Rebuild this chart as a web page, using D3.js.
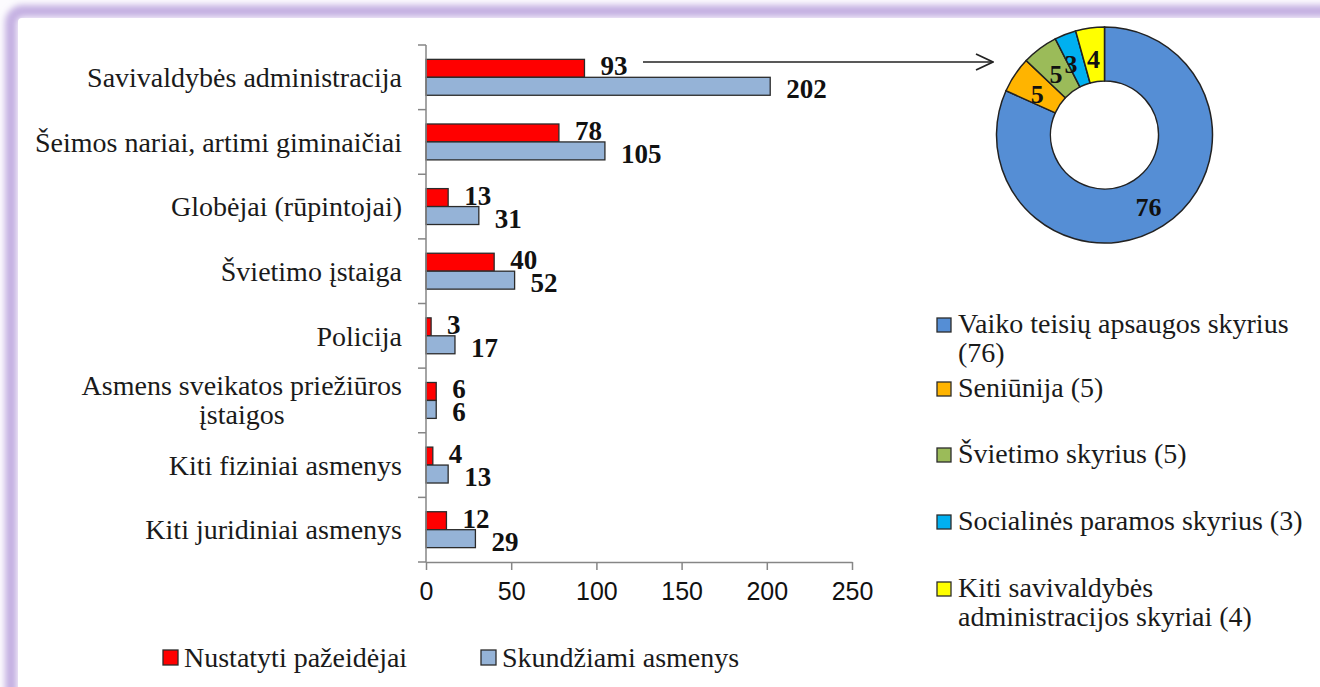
<!DOCTYPE html>
<html>
<head>
<meta charset="utf-8">
<script src="https://cdn.jsdelivr.net/npm/d3@7"></script>
<style>
  html, body { margin: 0; padding: 0; background: #fcfbfe; }
  svg { display: block; }
</style>
</head>
<body>
<svg id="chart"></svg>
<script>
const categories = [
    "Savivaldybės administracija",
    "Šeimos nariai, artimi giminaičiai",
    "Globėjai (rūpintojai)",
    "Švietimo įstaiga",
    "Policija",
    "Asmens sveikatos priežiūros|įstaigos",
    "Kiti fiziniai asmenys",
    "Kiti juridiniai asmenys"
];
const nustatyti = [93, 78, 13, 40, 3, 6, 4, 12];
const skundziami = [202, 105, 31, 52, 17, 6, 13, 29];
const seriesNames = ["Nustatyti pažeidėjai", "Skundžiami asmenys"];
const xTicks = [0, 50, 100, 150, 200, 250];

const donutNames = [
    "Vaiko teisių apsaugos skyrius|(76)",
    "Seniūnija (5)",
    "Švietimo skyrius (5)",
    "Socialinės paramos skyrius (3)",
    "Kiti savivaldybės|administracijos skyriai (4)"
];
const donutValues = [76, 5, 5, 3, 4];

const W = 1320, H = 687;
const serif = "'Liberation Serif', 'Times New Roman', serif";
const seriesColors = ["#ff0000", "#95b3d7"];
const donutColors = ["#558ed5", "#ffb400", "#9bbb59", "#00b0f0", "#ffff00"];

const svg = d3.select("#chart").attr("width", W).attr("height", H);

// purple frame
const defs = svg.append("defs");
defs.append("filter").attr("id", "soft")
    .attr("x", "-5%").attr("y", "-5%").attr("width", "110%").attr("height", "110%")
    .append("feGaussianBlur").attr("stdDeviation", 3);
svg.append("rect")
    .attr("x", 11).attr("y", 11).attr("width", W + 20).attr("height", H + 20)
    .attr("rx", 12)
    .attr("fill", "none").attr("stroke", "#c4b0e2").attr("stroke-width", 12)
    .attr("filter", "url(#soft)");
svg.append("rect")
    .attr("x", 18).attr("y", 18).attr("width", W).attr("height", H)
    .attr("rx", 4)
    .attr("fill", "#ffffff");

// ---- bar chart ----
const x = d3.scaleLinear().domain([0, 250]).range([426, 852]);
const y = d3.scaleBand().domain(categories).range([45, 562]);
const ySub = d3.scaleBand().domain([0, 1]).range([0, y.bandwidth()]).paddingOuter(0.8);

const data = categories.map((c, i) => ({ cat: c, vals: [nustatyti[i], skundziami[i]] }));

const groups = svg.append("g").selectAll("g")
    .data(data).join("g")
    .attr("transform", d => `translate(0,${y(d.cat)})`);

groups.selectAll("rect")
    .data(d => d.vals.map((v, k) => ({ v, k })))
    .join("rect")
    .attr("x", x(0))
    .attr("y", d => ySub(d.k))
    .attr("width", d => x(d.v) - x(0))
    .attr("height", ySub.bandwidth())
    .attr("fill", d => seriesColors[d.k])
    .attr("stroke", "#2b2b2b")
    .attr("stroke-width", 1.3);

groups.selectAll("text.val")
    .data(d => d.vals.map((v, k) => ({ v, k })))
    .join("text")
    .attr("class", "val")
    .attr("x", d => x(d.v) + 16)
    .attr("y", d => ySub(d.k) + ySub.bandwidth() + (d.k === 0 ? -2 : 3))
    .style("font-family", serif)
    .style("font-weight", "bold")
    .style("font-size", "27px")
    .attr("fill", "#111")
    .text(d => d.v);

// category labels
const catText = svg.append("g").selectAll("text")
    .data(categories).join("text")
    .attr("y", d => y(d) + y.bandwidth() / 2)
    .style("font-family", serif)
    .style("font-size", "28px")
    .attr("fill", "#1a1a1a");
catText.each(function(d) {
    const lines = d.split("|");
    const t = d3.select(this);
    if (lines.length === 1) {
        t.attr("x", 402).attr("text-anchor", "end").attr("dy", "0.35em").text(lines[0]);
        return;
    }
    const spans = lines.map((ln, i) => t.append("tspan")
        .attr("dy", i === 0 ? "-0.2em" : "1.05em")
        .text(ln));
    const w = spans[0].node().getComputedTextLength();
    t.attr("text-anchor", "middle");
    spans.forEach(s => s.attr("x", 402 - w / 2));
});

// y axis line and band ticks
const bounds = categories.map(c => y(c)).concat([y.range()[1]]);
svg.append("line")
    .attr("x1", x(0)).attr("x2", x(0))
    .attr("y1", 45).attr("y2", 562)
    .attr("stroke", "#868686").attr("stroke-width", 1.5);
svg.append("g").selectAll("line")
    .data(bounds).join("line")
    .attr("x1", x(0) - 8).attr("x2", x(0))
    .attr("y1", d => d).attr("y2", d => d)
    .attr("stroke", "#868686").attr("stroke-width", 1.5);

// x axis
const xAxis = svg.append("g")
    .attr("transform", "translate(0,562)")
    .call(d3.axisBottom(x).tickValues(xTicks).tickSize(8).tickSizeOuter(0).tickPadding(12));
xAxis.select(".domain").attr("stroke", "#868686").attr("stroke-width", 1.5);
xAxis.selectAll(".tick line").attr("stroke", "#868686").attr("stroke-width", 1.5);
xAxis.selectAll(".tick text")
    .style("font-family", "'Liberation Sans', Arial, sans-serif")
    .style("font-size", "25px")
    .attr("fill", "#111");

// bottom legend
const legX = [163, 481];
const bl = svg.append("g").selectAll("g")
    .data(seriesNames).join("g")
    .attr("transform", (d, i) => `translate(${legX[i]},650)`);
bl.append("rect")
    .attr("width", 15).attr("height", 15)
    .attr("fill", (d, i) => seriesColors[i])
    .attr("stroke", "#2b2b2b").attr("stroke-width", 1.3);
bl.append("text")
    .attr("x", 21).attr("y", 17)
    .style("font-family", serif)
    .style("font-size", "28px")
    .attr("fill", "#1a1a1a")
    .text(d => d);

// ---- donut ----
const cx = 1104.5, cy = 135, rOut = 108, rIn = 54;
const pie = d3.pie().sort(null).value(d => d);
const arc = d3.arc().innerRadius(rIn).outerRadius(rOut);
const donut = svg.append("g").attr("transform", `translate(${cx},${cy})`);
const arcs = pie(donutValues);
donut.selectAll("path")
    .data(arcs).join("path")
    .attr("d", arc)
    .attr("fill", (d, i) => donutColors[i])
    .attr("stroke", "#222")
    .attr("stroke-width", 1.5);
donut.selectAll("text")
    .data(arcs).join("text")
    .attr("transform", d => { const c = arc.centroid(d); return `translate(${c[0] - (d.index === 3 ? 4 : 0)},${c[1] + 4})`; })
    .attr("text-anchor", "middle")
    .attr("dy", "0.35em")
    .style("font-family", serif)
    .style("font-weight", "bold")
    .style("font-size", "26px")
    .attr("fill", "#111")
    .text(d => d.data);

// arrow from first bar to donut
defs.append("marker")
    .attr("id", "arrow").attr("viewBox", "0 0 20 20")
    .attr("refX", 19).attr("refY", 10)
    .attr("markerWidth", 20).attr("markerHeight", 20)
    .attr("markerUnits", "userSpaceOnUse")
    .attr("orient", "auto")
    .append("path").attr("d", "M2,2 L19,10 L2,18")
    .attr("fill", "none").attr("stroke", "#222").attr("stroke-width", 1.8);
svg.append("line")
    .attr("x1", 643).attr("y1", 62).attr("x2", 993).attr("y2", 62)
    .attr("stroke", "#222").attr("stroke-width", 1.5)
    .attr("marker-end", "url(#arrow)");

// donut legend
const legY = [333, 397, 463, 530, 597];
const dl = svg.append("g").selectAll("g")
    .data(donutNames).join("g")
    .attr("transform", (d, i) => `translate(937,${legY[i]})`);
dl.append("rect")
    .attr("y", -15).attr("width", 14).attr("height", 14)
    .attr("fill", (d, i) => donutColors[i])
    .attr("stroke", "#2b2b2b").attr("stroke-width", 1.3);
dl.append("text")
    .style("font-family", serif)
    .style("font-size", "28px")
    .attr("fill", "#1a1a1a")
    .each(function(d) {
        const t = d3.select(this);
        d.split("|").forEach((ln, i) => {
            t.append("tspan").attr("x", 21).attr("y", i * 29).text(ln);
        });
    });
</script>
</body>
</html>
